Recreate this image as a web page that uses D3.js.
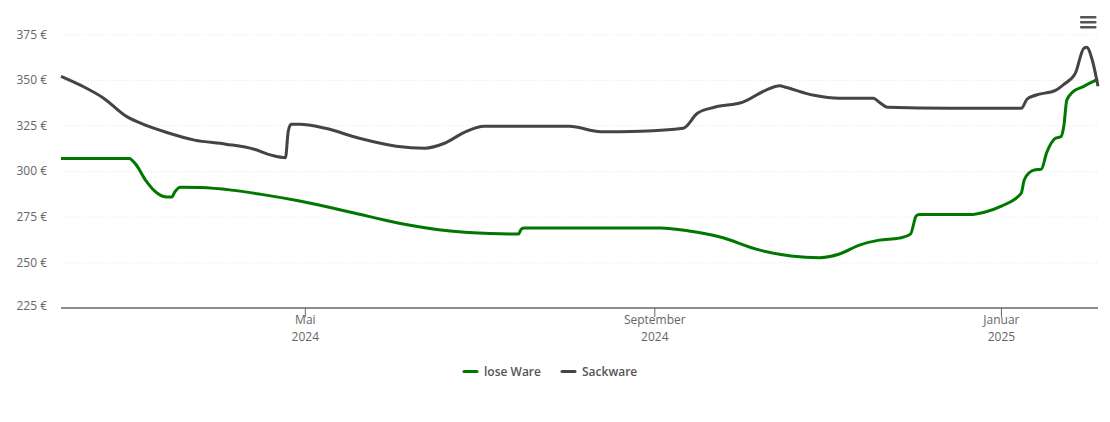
<!DOCTYPE html>
<html>
<head>
<meta charset="utf-8">
<script src="https://cdn.jsdelivr.net/npm/d3@7"></script>
<style>
  html, body { margin: 0; padding: 0; background: #fff; }
  svg { display: block; font-family: "Open Sans", sans-serif; }
  .y-axis text, .x-axis text { fill: #666; font-size: 12px; }
  .y-axis line { stroke: #e4e4e4; stroke-dasharray: 1 2; }
  .x-axis path, .x-axis line { stroke: #666; }
  .legend text { fill: #555; font-size: 12px; font-weight: 600; }
</style>
</head>
<body>
<svg id="chart" width="1110" height="422"></svg>
<script>
const series = [
  { name: 'lose Ware', color: '#007800', values: [
    ['2024-02-05', 307], ['2024-02-29', 307], ['2024-03-02', 304.4], ['2024-03-06', 294.5],
    ['2024-03-09', 289], ['2024-03-13', 285.8], ['2024-03-15', 285.8], ['2024-03-16', 288.5],
    ['2024-03-18', 291.2], ['2024-03-25', 291], ['2024-04-05', 289.6], ['2024-04-15', 287.4],
    ['2024-04-29', 283.6], ['2024-05-17', 277.5], ['2024-06-03', 271.5], ['2024-06-21', 267.2],
    ['2024-07-05', 265.8], ['2024-07-15', 265.5], ['2024-07-16', 268.2], ['2024-07-17', 268.8],
    ['2024-08-13', 268.8], ['2024-09-03', 268.8], ['2024-09-13', 267.2], ['2024-09-24', 263.9],
    ['2024-10-08', 256.7], ['2024-10-19', 253.5], ['2024-10-29', 252.6], ['2024-11-05', 254.6],
    ['2024-11-12', 259.5], ['2024-11-19', 262.2], ['2024-11-26', 263.3], ['2024-11-30', 265.5],
    ['2024-12-02', 275.4], ['2024-12-03', 276.2], ['2024-12-21', 276.2], ['2024-12-26', 277.5],
    ['2025-01-01', 280.8], ['2025-01-08', 288], ['2025-01-09', 295], ['2025-01-11', 299.4],
    ['2025-01-13', 300.8], ['2025-01-15', 301], ['2025-01-17', 310.4], ['2025-01-20', 318],
    ['2025-01-22', 319], ['2025-01-23', 325], ['2025-01-24', 338.9], ['2025-01-26', 343.2],
    ['2025-01-30', 346.5], ['2025-02-04', 350.4]
  ]},
  { name: 'Sackware', color: '#444444', values: [
    ['2024-02-05', 352], ['2024-02-12', 347], ['2024-02-20', 340], ['2024-02-28', 330],
    ['2024-03-04', 326.3], ['2024-03-13', 321.3], ['2024-03-23', 317], ['2024-04-03', 314.8],
    ['2024-04-13', 312], ['2024-04-19', 308.8], ['2024-04-24', 307.4], ['2024-04-25', 322],
    ['2024-04-26', 325.7], ['2024-04-29', 325.7], ['2024-05-08', 323.5], ['2024-05-20', 318],
    ['2024-06-02', 313.7], ['2024-06-12', 312.6], ['2024-06-19', 315.3], ['2024-06-26', 321.3],
    ['2024-07-03', 324.6], ['2024-08-02', 324.6], ['2024-08-13', 321.6], ['2024-08-27', 321.9],
    ['2024-09-11', 323.5], ['2024-09-16', 331.7], ['2024-09-22', 335], ['2024-10-02', 337.8],
    ['2024-10-10', 344.3], ['2024-10-15', 346.8], ['2024-10-17', 346], ['2024-10-27', 341.6],
    ['2024-11-05', 340], ['2024-11-17', 340], ['2024-11-19', 337.8], ['2024-11-22', 335],
    ['2024-12-14', 334.5], ['2025-01-08', 334.5], ['2025-01-10', 339.4], ['2025-01-13', 341.6],
    ['2025-01-20', 344.3], ['2025-01-23', 347.6], ['2025-01-27', 353.6], ['2025-01-30', 367.3],
    ['2025-01-31', 367.9], ['2025-02-02', 360.8], ['2025-02-04', 346.5]
  ]}
];

const parseDay = d3.timeParse('%Y-%m-%d');
const svg = d3.select('#chart');

const x = d3.scaleTime()
  .domain([parseDay('2024-02-05'), parseDay('2025-02-04')])
  .range([61, 1098]);
const y = d3.scaleLinear().domain([225, 375]).range([308, 34.3]);

// grid lines and euro labels
const yAxis = svg.append('g')
  .attr('class', 'y-axis')
  .attr('transform', 'translate(61,0)')
  .call(d3.axisLeft(y).tickValues(d3.range(225, 376, 25)).tickSize(-1037).tickPadding(14)
    .tickFormat(d => d + ' €'));
yAxis.attr('font-family', null).attr('font-size', null);
yAxis.select('.domain').remove();
yAxis.selectAll('.tick').filter(d => d === 225).select('line').remove();
yAxis.selectAll('.tick').filter(d => d === 225).select('text').attr('dy', '0.12em');

const labels = { '2024-05-01': ['Mai', '2024'], '2024-09-01': ['September', '2024'], '2025-01-01': ['Januar', '2025'] };
const xAxis = svg.append('g')
  .attr('class', 'x-axis')
  .attr('transform', 'translate(0,308)')
  .call(d3.axisBottom(x).tickValues(Object.keys(labels).map(parseDay)).tickSize(9).tickSizeOuter(0).tickPadding(2)
    .offset(0).tickFormat(''));
xAxis.attr('font-family', null).attr('font-size', null);
xAxis.select('.domain').attr('stroke-width', 1.4);
xAxis.selectAll('.tick text').each(function(d) {
  const rows = labels[d3.timeFormat('%Y-%m-%d')(d)];
  d3.select(this).selectAll('tspan').data(rows).join('tspan')
    .attr('x', 0)
    .attr('dy', (r, i) => i ? '1.42em' : '0.45em')
    .text(r => r);
});

const line = d3.line()
  .x(d => x(parseDay(d[0])))
  .y(d => y(d[1]))
  .curve(d3.curveMonotoneX);

svg.selectAll('.series').data(series).join('path')
  .attr('class', 'series')
  .attr('fill', 'none')
  .attr('stroke', d => d.color)
  .attr('stroke-width', 3)
  .attr('d', d => line(d.values));

// legend
const legend = svg.append('g').attr('class', 'legend');
const legendX = [464, 562];
series.forEach((s, i) => {
  legend.append('line')
    .attr('x1', legendX[i]).attr('x2', legendX[i] + 13)
    .attr('y1', 371.5).attr('y2', 371.5)
    .attr('stroke', s.color).attr('stroke-width', 3).attr('stroke-linecap', 'round');
  legend.append('text').attr('x', legendX[i] + 20).attr('y', 376).text(s.name);
});

// menu icon
svg.append('g').selectAll('rect').data([16, 21, 26]).join('rect')
  .attr('x', 1080).attr('y', d => d).attr('width', 16.5).attr('height', 2.6).attr('rx', 1)
  .attr('fill', '#555');
</script>
</body>
</html>
